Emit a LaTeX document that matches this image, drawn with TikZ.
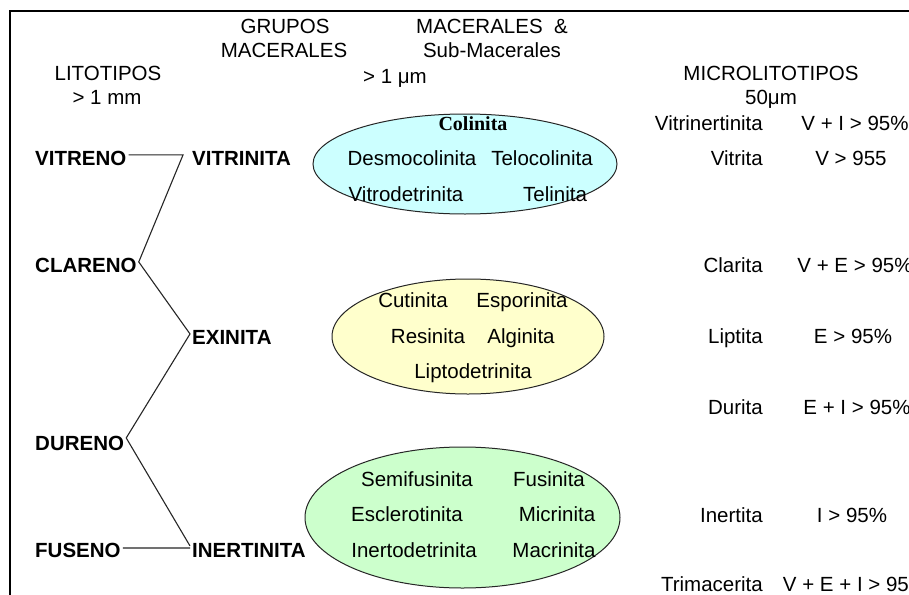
\documentclass[tikz,border=0pt]{standalone}
\usepackage{fontspec}
\setmainfont{Liberation Sans}
\newfontfamily\serifbold{Liberation Serif}
\usetikzlibrary{shapes.geometric}
\definecolor{cyanfill}{RGB}{204,255,255}
\definecolor{yellowfill}{RGB}{255,255,204}
\definecolor{greenfill}{RGB}{204,255,204}
\begin{document}
\begin{tikzpicture}[x=1pt,y=-1pt,
  txt/.style={inner sep=0pt, font=\fontsize{20.5}{24}\selectfont, anchor=base},
  rtxt/.style={txt, anchor=base east},
  grp/.style={inner ysep=0pt, inner xsep=2pt, font=\fontsize{20.5}{24}\selectfont\bfseries},
  lnk/.style={draw=black!85, line width=1.1pt},
  blob/.style={ellipse, draw=black!85, line width=1pt, inner sep=0pt}]
\useasboundingbox (0,0) rectangle (909,594);
\clip (0,0) rectangle (909,594);
\fill[white] (0,0) rectangle (909,594);
% frame
\draw[line width=2pt] (10,600) -- (10,11) -- (915,11);

% headers
\node[txt] (grupos) at (285,34) {GRUPOS};
\node[txt] (macgr) at (284,57) {MACERALES};
\node[txt] (macs) at (492,34) {MACERALES~~\&};
\node[txt] (sub) at (492,57) {Sub-Macerales};
\node[txt] (um1) at (395,83) {> 1 μm};
\node[txt] (lito) at (108,81) {LITOTIPOS};
\node[txt] (mm) at (107,104) {> 1 mm};
\node[txt] (micro) at (771,81) {MICROLITOTIPOS};
\node[txt] (um2) at (771,104) {50μm};

% ellipses
\node[blob, fill=cyanfill, minimum width=304pt, minimum height=100pt] (colE) at (465,164) {};
\node[blob, fill=yellowfill, minimum width=272pt, minimum height=115pt] (exE) at (468,336.5) {};
\node[blob, fill=greenfill, minimum width=315pt, minimum height=141pt] (inE) at (462.5,517.5) {};

% vitrinita group
\node[txt, font=\fontsize{20}{24}\serifbold\bfseries] (colinita) at (473,130) {Colinita};
\node[txt] (desmo) at (412,165) {Desmocolinita};
\node[txt] (telocol) at (542,165) {Telocolinita};
\node[txt] (vitrodet) at (406,201) {Vitrodetrinita};
\node[txt] (telinita) at (555,201) {Telinita};
% exinita group
\node[txt] (cutinita) at (413,307) {Cutinita};
\node[txt] (esporinita) at (522,307) {Esporinita};
\node[txt] (resinita) at (428,343) {Resinita};
\node[txt] (alginita) at (521,343) {Alginita};
\node[txt] (liptodet) at (473,378) {Liptodetrinita};
% inertinita group
\node[txt] (semifus) at (417,486) {Semifusinita};
\node[txt] (fusinita) at (549,486) {Fusinita};
\node[txt] (escler) at (407,521) {Esclerotinita};
\node[txt] (micrinita) at (557,521) {Micrinita};
\node[txt] (inertodet) at (414,557) {Inertodetrinita};
\node[txt] (macrinita) at (554,557) {Macrinita};

% litotipos and groups
\node[grp, anchor=base west] (vitreno) at (33,165) {VITRENO};
\node[grp, anchor=base west] (vitrinita) at (190,165) {VITRINITA};
\node[grp, anchor=base west] (clareno) at (33,272) {CLARENO};
\node[grp, anchor=base west] (exinita) at (190,344) {EXINITA};
\node[grp, anchor=base west] (dureno) at (33,450) {DURENO};
\node[grp, anchor=base west] (fuseno) at (33,557) {FUSENO};
\node[grp, anchor=base west] (inertinita) at (190,557) {INERTINITA};

% connectors
\draw[lnk] ([yshift=3pt]vitreno.east) -- ([yshift=3pt,xshift=-7pt]vitrinita.west)
  -- ([yshift=3pt]clareno.east) -- ([yshift=3pt]exinita.west)
  -- ([yshift=5pt]dureno.east) -- ([yshift=4pt]inertinita.west);
\draw[lnk] ([yshift=2pt]fuseno.east) -- ([yshift=2pt]inertinita.west);

% microlitotipos
\node[rtxt] (vitrinert) at (763,130) {Vitrinertinita};
\node[txt] (vitrinertv) at (855,130) {V + I > 95\%};
\node[rtxt] (vitrita) at (763,165) {Vitrita};
\node[txt] (vitritav) at (851,165) {V > 955};
\node[rtxt] (clarita) at (763,272) {Clarita};
\node[txt] (claritav) at (855,272) {V + E > 95\%};
\node[rtxt] (liptita) at (763,343) {Liptita};
\node[txt] (liptitav) at (853,343) {E > 95\%};
\node[rtxt] (durita) at (763,414) {Durita};
\node[txt] (duritav) at (857,414) {E + I > 95\%};
\node[rtxt] (inertita) at (763,522) {Inertita};
\node[txt] (inertitav) at (852,522) {I > 95\%};
\node[rtxt] (trimac) at (763,591) {Trimacerita};
\node[txt] (trimacv) at (855,591) {V + E + I > 95\%};
\end{tikzpicture}
\end{document}
